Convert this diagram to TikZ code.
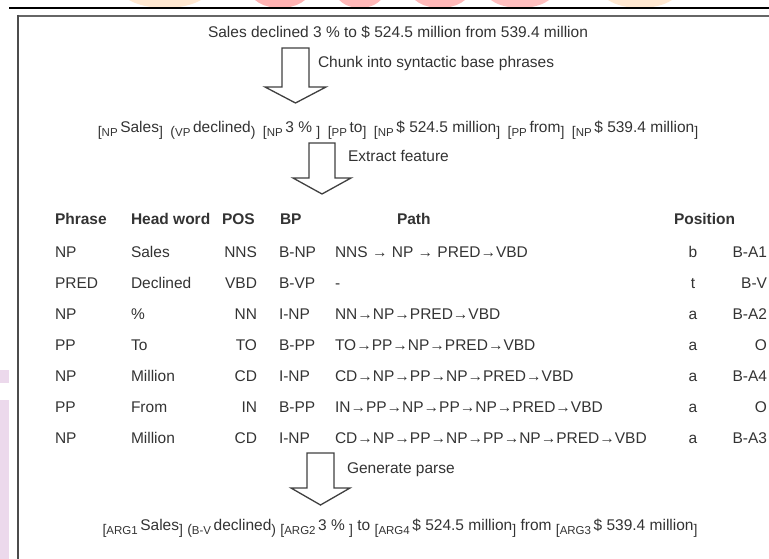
\documentclass[tikz,border=0pt]{standalone}
\usepackage{fontspec}
\setmainfont{Liberation Sans}
\definecolor{txt}{HTML}{333333}
\newcommand{\lo}[1]{\raisebox{-4pt}{\fontsize{11.5}{11}\selectfont #1}}
\newcommand{\ob}[1]{\raisebox{-4pt}{\fontsize{14}{14}\selectfont[}\lo{#1}\,}
\newcommand{\cb}{\raisebox{-4pt}{\fontsize{14}{14}\selectfont]}}
\newcommand{\op}[1]{\raisebox{-4pt}{\fontsize{14}{14}\selectfont(}\lo{#1}\,}
\newcommand{\cp}{\raisebox{-4pt}{\fontsize{14}{14}\selectfont)}}
\newcommand{\gp}{\hspace{7.5pt}}
\begin{document}
\begin{tikzpicture}[x=1pt,y=-1pt,
  every node/.style={inner sep=0pt, outer sep=0pt, text=txt, font=\fontsize{15.5}{18}\selectfont},
  hd/.style={anchor=base west, font=\fontsize{15.5}{18}\selectfont\bfseries},
  cl/.style={anchor=base west},
  cr/.style={anchor=base east},
  cc/.style={anchor=base},
  blk/.style={draw=black!75, line width=1.3pt, fill=white, line join=miter}]
\useasboundingbox (0,0) rectangle (769,559);
% watermark fragments
\begin{scope}
\clip (0,0) rectangle (769,7);
\fill[orange!18] (165,-12) ellipse (45 and 20);
\fill[red!30] (280,-10) ellipse (30 and 18);
\fill[red!28] (360,-10) ellipse (25 and 18);
\fill[red!28] (440,-10) ellipse (30 and 18);
\fill[red!25] (520,-10) ellipse (35 and 18);
\fill[orange!18] (640,-12) ellipse (40 and 20);
\end{scope}
\fill[violet!15] (0,400) rectangle (9,559);
\fill[violet!15] (0,370) rectangle (9,383);
% frame
\draw[black, line width=2.2pt] (9,8) -- (769,8);
\draw[black!60, line width=2pt] (17,16) -- (769,16);
\draw[black!70, line width=2pt] (18,15) -- (18,559);
% line 1
\node[cc] (s1) at (398,38) {Sales declined 3 \% to \$ 524.5 million from 539.4 million};
\node[cl] (t1) at (318,68) {Chunk into syntactic base phrases};
\draw[blk] (282,48) -- (309,48) -- (309,87) -- (326,87) -- (295.5,103) -- (265,87) -- (282,87) -- cycle;
% line 2
\node[cc] (s2) at (398,133) {\ob{NP}Sales\cb\gp\op{VP}declined\cp\gp\ob{NP}3 \% \cb\gp\ob{PP}to\cb\gp\ob{NP}\$ 524.5 million\cb\gp\ob{PP}from\cb\gp\ob{NP}\$ 539.4 million\cb};
\node[cl] (t2) at (348,162) {Extract feature};
\draw[blk] (309,143) -- (335,143) -- (335,178) -- (351,178) -- (322,194) -- (293,178) -- (309,178) -- cycle;
% table header
\node[hd] (hPhrase) at (55,225) {Phrase};
\node[hd] (hHead) at (131,225) {Head word};
\node[hd] (hPOS) at (222,225) {POS};
\node[hd] (hBP) at (280,225) {BP};
\node[hd] (hPath) at (397,225) {Path};
\node[hd] (hPos) at (674,225) {Position};
% rows
\foreach \i/\y/\a/\b/\c/\d/\e/\f/\g in {
 1/257/NP/Sales/NNS/B-NP/{NNS → NP → PRED→VBD}/b/B-A1,
 2/288/PRED/Declined/VBD/B-VP/{-}/t/B-V,
 3/319/NP/\%/NN/I-NP/{NN→NP→PRED→VBD}/a/B-A2,
 4/350/PP/To/TO/B-PP/{TO→PP→NP→PRED→VBD}/a/O,
 5/381/NP/Million/CD/I-NP/{CD→NP→PP→NP→PRED→VBD}/a/B-A4,
 6/412/PP/From/IN/B-PP/{IN→PP→NP→PP→NP→PRED→VBD}/a/O,
 7/443/NP/Million/CD/I-NP/{CD→NP→PP→NP→PP→NP→PRED→VBD}/a/B-A3}{
  \node[cl] (p\i) at (55,\y) {\a};
  \node[cl] (h\i) at (131,\y) {\b};
  \node[cr] (o\i) at (257,\y) {\c};
  \node[cl] (b\i) at (279,\y) {\d};
  \node[cl] (q\i) at (335,\y) {\e};
  \node[cc] (x\i) at (693,\y) {\f};
  \node[cr] (r\i) at (767,\y) {\g};
}
% line 3
\node[cl] (t3) at (347,473) {Generate parse};
\draw[blk] (307,453) -- (334,453) -- (334,488) -- (350,488) -- (320.5,505) -- (291,488) -- (307,488) -- cycle;
\node[cc] (s3) at (400,530) {\ob{ARG1}Sales\cb\ \op{B-V}declined\cp\ \ob{ARG2}3 \% \cb\ to \ob{ARG4}\$ 524.5 million\cb\ from \ob{ARG3}\$ 539.4 million\cb};
\end{tikzpicture}
\end{document}
